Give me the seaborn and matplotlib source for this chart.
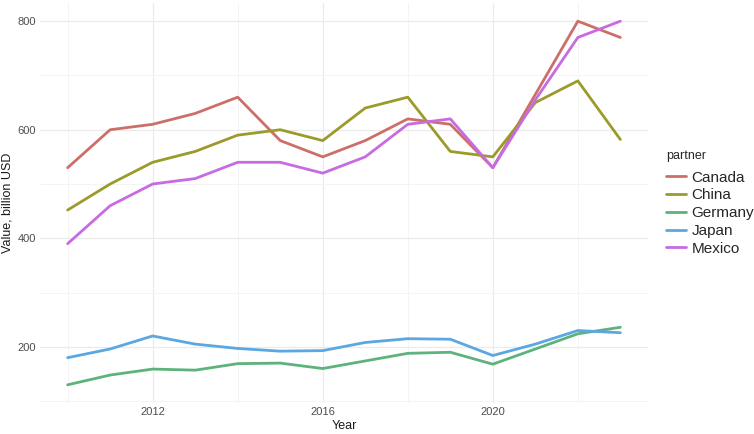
import numpy as np
import pandas as pd
import matplotlib
matplotlib.use("Agg")
import matplotlib.pyplot as plt
from matplotlib.ticker import MultipleLocator
import seaborn as sns

years = list(range(2010, 2024))
partners = ["Canada", "China", "Germany", "Japan", "Mexico"]
canada = [530, 600, 610, 630, 660, 580, 550, 580, 620, 610, 530, 665, 800, 770]
china = [452, 500, 540, 560, 590, 600, 580, 640, 660, 560, 550, 650, 690, 582]
germany = [130, 148, 159, 157, 169, 170, 160, 174, 188, 190, 168, 196, 224, 236]
japan = [180, 196, 220, 205, 197, 192, 193, 208, 215, 214, 184, 205, 230, 226]
mexico = [390, 460, 500, 510, 540, 540, 520, 550, 610, 620, 530, 655, 770, 800]

colors = ["#CC6F69", "#9B9B2B", "#5EB27C", "#5AA7E2", "#C86BE2"]

df = pd.DataFrame({
    "Year": years * 5,
    "value": canada + china + germany + japan + mexico,
    "partner": np.repeat(partners, len(years)),
})

sns.set_theme(style="white")
plt.rcParams["font.family"] = ["Liberation Sans", "DejaVu Sans"]

fig = plt.figure(figsize=(7.54, 4.34), dpi=100)
ax = fig.add_axes([40 / 754, 31 / 434, 608 / 754, 400 / 434])

sns.lineplot(data=df, x="Year", y="value", hue="partner", hue_order=partners,
             palette=colors, linewidth=2.0, ax=ax)

ax.set_xlim(2009.35, 2023.65)
ax.set_ylim(96.5, 833.5)
ax.yaxis.set_major_locator(MultipleLocator(200))
ax.yaxis.set_minor_locator(MultipleLocator(100))
ax.set_xticks([2012, 2016, 2020])
ax.set_xticks([2010, 2014, 2018, 2022], minor=True)
ax.grid(True, which="major", color="#EBEBEB", linewidth=0.9)
ax.grid(True, which="minor", color="#F3F3F3", linewidth=0.6)
ax.set_axisbelow(True)
for s in ax.spines.values():
    s.set_visible(False)
ax.tick_params(axis="both", which="both", length=0, labelsize=8, labelcolor="#4D4D4D", pad=3)

ax.set_xlabel("Year", fontsize=9, color="#1A1A1A", labelpad=2)
ax.set_ylabel("Value, billion USD", fontsize=9, color="#1A1A1A")
ax.yaxis.set_label_coords(-0.043, 0.5)

leg = ax.legend(title="partner", loc="center left", bbox_to_anchor=(1.03, 0.5),
                frameon=False, fontsize=11, title_fontsize=9, handlelength=1.3,
                handletextpad=0.35, labelspacing=0.25, borderaxespad=0, borderpad=0)
leg._legend_box.align = "left"
leg._legend_box.sep = 6
for line in leg.get_lines():
    line.set_linewidth(2.0)

fig.savefig("out.png", dpi=100)
